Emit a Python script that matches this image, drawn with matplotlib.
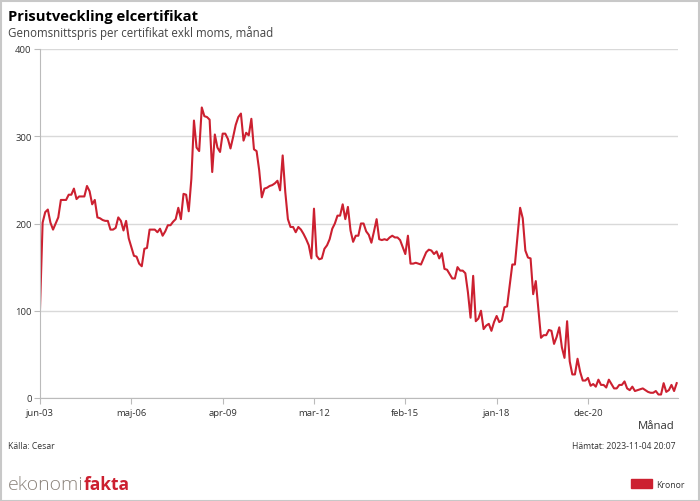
import matplotlib.pyplot as plt
from matplotlib.patches import Rectangle

# monthly average price per certificate, jun-03 .. oct-23 (kronor)
prices = [
    102, 201, 213, 216, 201, 193, 200, 207, 227, 227, 227, 233,   # jun-03..
    233, 240, 228, 231, 231, 231, 243, 237, 222, 227, 207, 206,
    204, 203, 203, 193, 193, 195, 207, 203, 192, 203, 183, 173,
    163, 162, 154, 151, 171, 172, 193, 193, 193, 190, 194, 186,
    191, 198, 198, 202, 205, 218, 205, 234, 233, 214, 251, 318,
    287, 283, 333, 323, 322, 319, 259, 302, 287, 282, 303, 303,
    297, 286, 299, 313, 322, 326, 295, 304, 301, 320, 285, 283,
    261, 230, 240, 241, 243, 244, 246, 249, 238, 278, 236, 205,
    196, 196, 190, 196, 193, 188, 182, 175, 160, 217, 163, 159,
    160, 171, 175, 182, 194, 200, 209, 209, 222, 205, 219, 192,
    179, 186, 186, 200, 200, 191, 187, 178, 191, 205, 182, 181,
    182, 181, 184, 186, 184, 184, 181, 173, 165, 186, 154, 154,
    155, 154, 153, 160, 167, 170, 169, 165, 168, 160, 166, 148,
    147, 142, 137, 137, 150, 146, 146, 143, 121, 92, 140, 88,
    91, 100, 79, 83, 85, 77, 87, 94, 87, 89, 104, 105,
    129, 153, 153, 186, 218, 206, 169, 161, 160, 119, 134, 102,
    69, 72, 72, 78, 77, 62, 70, 81, 58, 46, 88, 42,
    27, 27, 45, 30, 20, 20, 23, 14, 16, 13, 21, 15,
    15, 12, 21, 16, 11, 11, 15, 15, 19, 11, 9, 13,
    8, 9, 10, 11, 9, 7, 6, 6, 8, 4, 4, 17,
    7, 9, 15, 8, 17,
]
months = list(range(len(prices)))

tick_pos = [0, 35, 70, 105, 140, 175, 210]
tick_labels = ["jun-03", "maj-06", "apr-09", "mar-12", "feb-15", "jan-18", "dec-20"]
y_ticks = [0, 100, 200, 300, 400]

RED = "#cc2030"
GRID = "#d9d9d9"

plt.rcParams["font.family"] = ["Open Sans", "DejaVu Sans"]

fig = plt.figure(figsize=(7, 5.02), dpi=100)
ax = fig.add_axes([40 / 700, 103 / 502, 638 / 700, 349 / 502])

ax.plot(months, prices, color=RED, linewidth=1.5)

ax.set_xlim(0, 244.5)
ax.set_ylim(0, 400)
ax.set_yticks(y_ticks)
ax.set_xticks(tick_pos)
ax.set_xticklabels(tick_labels)
ax.tick_params(axis="both", labelsize=6.8, colors="#333333")
ax.tick_params(axis="x", length=4, color="#bbbbbb", pad=3)
ax.tick_params(axis="y", length=4, color="#bbbbbb", pad=2)
ax.yaxis.grid(True, color=GRID, linewidth=1)
ax.set_axisbelow(True)
for side in ["top", "right"]:
    ax.spines[side].set_visible(False)
ax.spines["left"].set_color("#bbbbbb")
ax.spines["bottom"].set_color("#bbbbbb")

# texts
fig.text(8 / 700, 1 - 21 / 502, "Prisutveckling elcertifikat", fontsize=10.6,
         fontweight="bold", va="baseline", color="black")
fig.text(8 / 700, 1 - 37 / 502, "Genomsnittspris per certifikat exkl moms, månad",
         fontsize=8.3, va="baseline", color="#444444")
fig.text(675 / 700, 1 - 429 / 502, "Månad", fontsize=8.2, ha="right",
         va="baseline", color="#333333")
fig.text(8 / 700, 1 - 449 / 502, "Källa: Cesar", fontsize=6.2, va="baseline",
         color="#333333")
fig.text(675 / 700, 1 - 449 / 502, "Hämtat: 2023-11-04 20:07", fontsize=6.2,
         ha="right", va="baseline", color="#333333")

# logo
logo = fig.text(8 / 700, 1 - 490 / 502, "ekonomi", fontsize=14, va="baseline",
                color="#8c847c", fontweight="light")
fig.canvas.draw()
bb = logo.get_window_extent()
fig.text(bb.x1 / 700, 1 - 490 / 502, "fakta", fontsize=12.5,
         fontweight="bold", va="baseline", color=RED)

# legend
fig.patches.append(Rectangle((631 / 700, 1 - 489 / 502), 21 / 700, 9 / 502,
                             transform=fig.transFigure, color=RED))
fig.text(656 / 700, 1 - 488 / 502, "Kronor", fontsize=6.3, va="baseline",
         color="#333333")

# outer border
fig.patches.append(Rectangle((0.5 / 700, 0.5 / 502), 698 / 700, 500 / 502,
                             transform=fig.transFigure, fill=False,
                             edgecolor="#c8c8c8", linewidth=1.5))

fig.savefig("out.png", dpi=100)
